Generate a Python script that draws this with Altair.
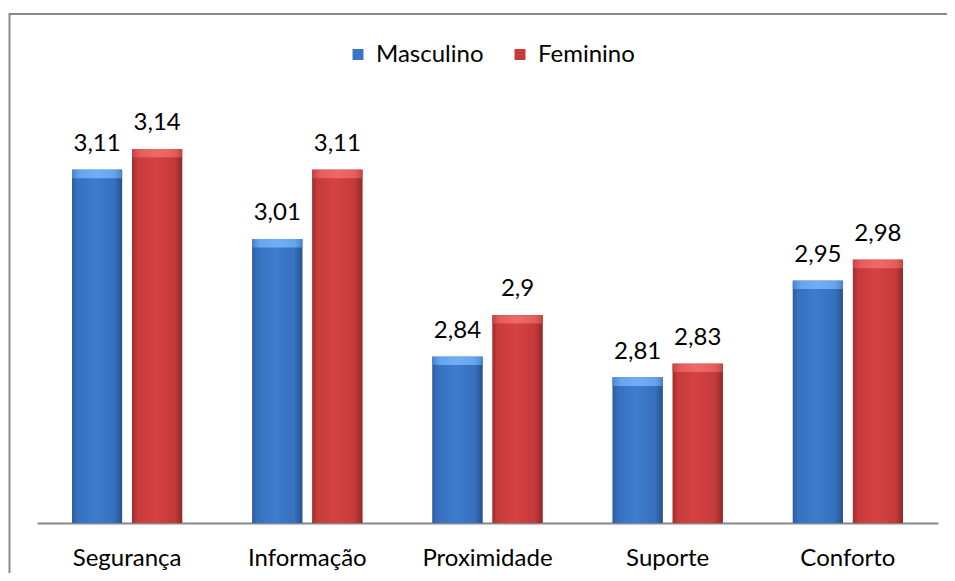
import altair as alt
import pandas as pd

categories = ["Segurança", "Informação", "Proximidade", "Suporte", "Conforto"]
series = ["Masculino", "Feminino"]
masculino = [3.11, 3.01, 2.84, 2.81, 2.95]
feminino = [3.14, 3.11, 2.90, 2.83, 2.98]

rows = []
for i, c in enumerate(categories):
    for s, vals in zip(series, [masculino, feminino]):
        v = vals[i]
        rows.append({"cat": c, "serie": s, "value": v,
                     "label": ("%g" % v).replace(".", ",")})
df = pd.DataFrame(rows)

Y_MIN, Y_MAX = 2.6, 3.2
W, H = 901, 415.5

def grad(stops):
    return alt.Gradient(
        gradient="linear", x1=0, x2=1, y1=0, y2=0,
        stops=[alt.GradientStop(offset=o, color=c) for o, c in stops])

blue_grad = grad([(0, "#2c5c9e"), (0.1, "#3670bd"), (0.45, "#3d7ccf"),
                  (0.85, "#3670bd"), (1, "#28528c")])
red_grad = grad([(0, "#a02c2c"), (0.1, "#c63b3b"), (0.45, "#d64242"),
                 (0.85, "#c43a3a"), (1, "#922828")])
blue_bev = grad([(0, "#4a84d0"), (0.15, "#66a4ee"), (0.5, "#72aef5"),
                 (0.85, "#66a4ee"), (1, "#4a84d0")])
red_bev = grad([(0, "#c84444"), (0.15, "#e65c5c"), (0.5, "#ee6a6a"),
                (0.85, "#e65c5c"), (1, "#c84444")])

x_enc = alt.X("cat:N", sort=categories, title=None,
              scale=alt.Scale(paddingInner=70 / 180, paddingOuter=35 / 180),
              axis=alt.Axis(labelAngle=0, ticks=False, domainColor="#878787",
                            domainWidth=2, labelFontSize=24, labelColor="#000000",
                            labelPadding=23, labelFont="Lato"))
xo_enc = alt.XOffset("serie:N", sort=series,
                     scale=alt.Scale(paddingInner=1 / 6, paddingOuter=0))
y_scale = alt.Scale(domain=[Y_MIN, Y_MAX], zero=False, nice=False)

base = alt.Chart(df).encode(x=x_enc, xOffset=xo_enc)

legend_bars = base.mark_bar().encode(
    y=alt.Y("value:Q", scale=y_scale, axis=None),
    y2=alt.datum(Y_MIN),
    color=alt.Color("serie:N", sort=series,
                    scale=alt.Scale(domain=series, range=["#3a74c4", "#c83a3a"]),
                    legend=alt.Legend(title=None, orient="none", direction="horizontal",
                                      legendX=309, legendY=-65,
                                      symbolType="square", symbolSize=120,
                                      symbolStrokeWidth=0,
                                      labelFontSize=24, labelFont="Lato",
                                      labelColor="#000000", labelOffset=6,
                                      columnPadding=24)),
)

grad_bars = base.mark_bar().encode(
    y=alt.Y("value:Q", scale=y_scale, axis=None),
    y2=alt.datum(Y_MIN),
    fill=alt.condition(alt.datum.serie == "Masculino",
                       alt.value(blue_grad), alt.value(red_grad)),
)

bevel = base.transform_calculate(bev="datum.value - 0.012").mark_bar().encode(
    y=alt.Y("value:Q", scale=y_scale, axis=None),
    y2="bev:Q",
    fill=alt.condition(alt.datum.serie == "Masculino",
                       alt.value(blue_bev), alt.value(red_bev)),
)

labels = base.mark_text(baseline="alphabetic", dy=-19, fontSize=24,
                        font="Lato", color="#000000").encode(
    y=alt.Y("value:Q", scale=y_scale, axis=None),
    text="label:N",
)

frame = alt.Chart(pd.DataFrame({"f": [0]})).mark_rect(
    fillOpacity=0, stroke="#898989", strokeWidth=2).encode(
    x=alt.value(-27.5), x2=alt.value(1300), y=alt.value(-93.5), y2=alt.value(1000))

chart = alt.layer(frame, legend_bars, grad_bars, bevel, labels).properties(
    width=W, height=H,
    autosize=alt.AutoSizeParams(type="none"),
    padding={"left": 29, "top": 99.5, "right": 9, "bottom": 50},
).configure(font="Lato", view=alt.ViewConfig(stroke=None))

chart.save("out.html", embed_options={"renderer": "svg", "actions": False})
